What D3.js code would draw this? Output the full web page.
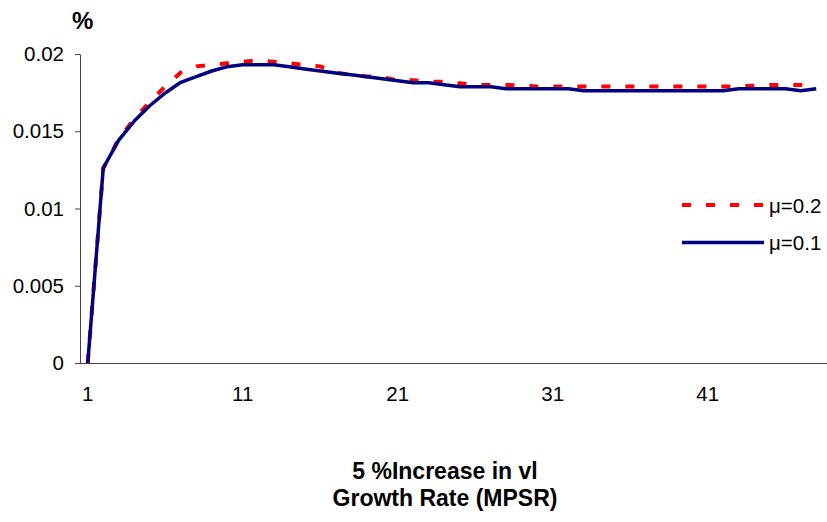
<!DOCTYPE html>
<html>
<head>
<meta charset="utf-8">
<script src="https://cdn.jsdelivr.net/npm/d3@7"></script>
<style>
  html, body { margin: 0; padding: 0; background: #fff; }
  svg { display: block; font-family: Arial, "Liberation Sans", sans-serif; }
</style>
</head>
<body>
<svg id="chart" width="827" height="522"></svg>
<script>
// ---- data ----
const categories = d3.range(1, 49);
const mu02 = [0, 0.0126, 0.0145, 0.0158, 0.0169, 0.0179, 0.0188, 0.0192, 0.0193, 0.0194,
  0.0195, 0.0196, 0.0195, 0.0194, 0.0193, 0.0192, 0.0188, 0.01865, 0.01855, 0.0185,
  0.0183, 0.0183, 0.0182, 0.0182, 0.0181, 0.0180, 0.0180, 0.0180, 0.01795, 0.0179,
  0.0179, 0.0179, 0.0179, 0.0179, 0.0179, 0.0179, 0.0179, 0.0179, 0.0179, 0.0179,
  0.0179, 0.0179, 0.0179, 0.01795, 0.0180, 0.0180, 0.0180, 0.0180];
const mu01 = [0, 0.01262, 0.01443, 0.01566, 0.01665, 0.01748, 0.01817, 0.01853, 0.0189, 0.01918,
  0.0193, 0.0193, 0.0193, 0.01918, 0.01903, 0.0189, 0.01877, 0.01866, 0.01853, 0.0184,
  0.01827, 0.01814, 0.01814, 0.01801, 0.01788, 0.01788, 0.01788, 0.01775, 0.01775, 0.01775,
  0.01775, 0.01775, 0.01762, 0.01762, 0.01762, 0.01762, 0.01762, 0.01762, 0.01762, 0.01762,
  0.01762, 0.01762, 0.01775, 0.01775, 0.01775, 0.01775, 0.01762, 0.01775];
const seriesNames = ["μ=0.2", "μ=0.1"];
const yTickValues = [0, 0.005, 0.01, 0.015, 0.02];
const yTickLabels = ["0", "0.005", "0.01", "0.015", "0.02"];
const xTickLabels = [1, 11, 21, 31, 41];
const yTitle = "%";
const xTitleLines = ["5 %Increase in vl", "Growth Rate (MPSR)"];

// ---- layout ----
const svg = d3.select("#chart");
const plotLeft = 80, plotRight = 824, plotTop = 54, plotBottom = 363;

const x = d3.scaleBand().domain(categories).range([plotLeft, plotRight]).padding(0);
const xc = d => x(d) + x.bandwidth() / 2;
const y = d3.scaleLinear().domain([0, 0.02]).range([plotBottom, plotTop]);

// axes
const yAxis = d3.axisLeft(y).tickValues(yTickValues)
  .tickFormat((d, i) => yTickLabels[i]).tickSize(5).tickPadding(11).tickSizeOuter(0);
const gy = svg.append("g").attr("transform", `translate(${plotLeft},0)`).call(yAxis);
gy.select(".domain").attr("stroke", "#444");
gy.selectAll(".tick line").attr("stroke", "#444");
gy.selectAll("text").attr("font-size", "20.5px").attr("fill", "#000")
  .attr("font-family", "Arial, 'Liberation Sans', sans-serif");

const xAxis = d3.axisBottom(x).tickValues(xTickLabels).tickSize(0).tickPadding(23).tickSizeOuter(0);
const gx = svg.append("g").attr("transform", `translate(0,${plotBottom})`).call(xAxis);
gx.select(".domain").attr("stroke", "#444").attr("d", `M${plotLeft},0.5H827`);
gx.selectAll("text").attr("font-size", "20.5px").attr("fill", "#000")
  .attr("font-family", "Arial, 'Liberation Sans', sans-serif");

// lines
const line = d3.line().x((d, i) => xc(categories[i])).y(d => y(d));
svg.append("path").datum(mu02).attr("d", line)
  .attr("fill", "none").attr("stroke", "#FF0000").attr("stroke-width", 4)
  .attr("stroke-dasharray", "9,15");
svg.append("path").datum(mu01).attr("d", line)
  .attr("fill", "none").attr("stroke", "#000080").attr("stroke-width", 3.5)
  .attr("stroke-linejoin", "round");

// legend
const legend = svg.append("g");
const legendItems = [
  { name: seriesNames[0], color: "#FF0000", dash: "9,15", w: 4, y: 205 },
  { name: seriesNames[1], color: "#000080", dash: null, w: 3.5, y: 242.5 }
];
legendItems.forEach(it => {
  legend.append("line").attr("x1", 682).attr("x2", 764).attr("y1", it.y).attr("y2", it.y)
    .attr("stroke", it.color).attr("stroke-width", it.w)
    .attr("stroke-dasharray", it.dash);
  legend.append("text").attr("x", 769).attr("y", it.y + 7.5)
    .attr("font-size", "20.5px").attr("fill", "#000").text(it.name);
});

// titles
svg.append("text").attr("x", 72).attr("y", 29).attr("font-size", "24px")
  .attr("font-weight", "bold").text(yTitle);
xTitleLines.forEach((t, i) => {
  svg.append("text").attr("x", 445).attr("y", 479 + i * 27).attr("text-anchor", "middle")
    .attr("font-size", "23px").attr("font-weight", "bold").text(t);
});
</script>
</body>
</html>
